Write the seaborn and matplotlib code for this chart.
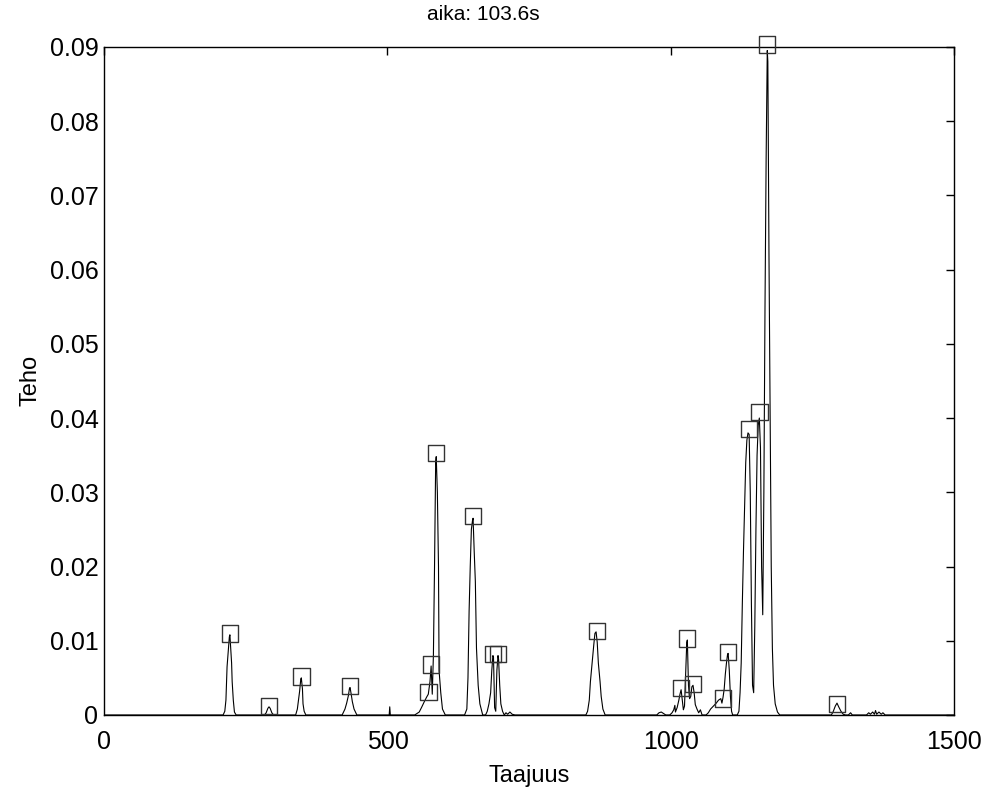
import matplotlib
matplotlib.use("Agg")
import matplotlib.pyplot as plt
import seaborn as sns
import pandas as pd

# spectrum (frequency, power)
freq = [0, 210, 213, 215, 217, 219, 221, 222, 223, 225, 226, 228, 230, 233,
        283, 286, 289, 291, 293, 296, 299,
        338, 341, 343, 345, 347, 348, 350, 351, 353, 356,
        420, 425, 428, 431, 433, 434, 436, 438, 441, 446,
        503, 504, 505,
        548, 552, 556, 560, 565, 569, 572, 575, 577, 579, 581, 583, 585, 586, 588, 590, 591, 594, 597, 602,
        636, 640, 642, 644, 646, 648, 650, 651, 653, 655, 657, 660, 663, 668,
        673, 676, 679, 682, 684, 686, 687, 689, 691, 693, 695, 696, 698, 700, 703, 706, 709, 712, 716, 720, 725,
        850, 853, 856, 858, 861, 864, 866, 868, 870, 872, 875, 877, 880, 884,
        975, 979, 983, 987, 991,
        998, 1002, 1005, 1007, 1008, 1011, 1014, 1016, 1018, 1020, 1022, 1024, 1026, 1028, 1029, 1031, 1033,
        1035, 1037, 1039, 1041, 1043, 1046, 1049, 1052, 1055,
        1062, 1066, 1070, 1075, 1080, 1084, 1088, 1090, 1092, 1094, 1096, 1098, 1100, 1101, 1103, 1105, 1107, 1109,
        1117, 1120, 1122, 1124, 1126, 1128, 1130, 1132, 1134, 1136, 1138, 1140, 1142, 1144, 1146, 1148, 1150,
        1152, 1154, 1156, 1158, 1160, 1162, 1164, 1166, 1168, 1170, 1171, 1173, 1175, 1177, 1179, 1181, 1184,
        1188, 1192,
        1283, 1286, 1290, 1293, 1296, 1300, 1304, 1308, 1313, 1317, 1320,
        1345, 1349, 1352, 1356, 1359, 1361, 1363, 1367, 1371, 1374, 1378, 1500]
power = [0, 0, 0.0005, 0.002, 0.0065, 0.0085, 0.0105, 0.0108, 0.0095, 0.007, 0.0045, 0.002, 0.0004, 0,
         0, 0.0003, 0.0009, 0.0011, 0.0009, 0.0003, 0,
         0, 0.0008, 0.002, 0.0032, 0.0048, 0.005, 0.0035, 0.0015, 0.0005, 0,
         0, 0.0008, 0.0016, 0.0026, 0.0036, 0.0037, 0.0028, 0.0018, 0.0008, 0,
         0, 0.0011, 0,
         0, 0.0002, 0.0004, 0.001, 0.0018, 0.0024, 0.0028, 0.0045, 0.0066, 0.0028, 0.008, 0.02, 0.034, 0.0348,
         0.03, 0.02, 0.006, 0.003, 0.0008, 0,
         0, 0.0008, 0.005, 0.014, 0.02, 0.025, 0.0262, 0.0265, 0.022, 0.018, 0.009, 0.004, 0.0015, 0,
         0, 0.0005, 0.0015, 0.003, 0.006, 0.008, 0.0078, 0.001, 0.0005, 0.006, 0.008, 0.0075, 0.004, 0.0015,
         0.0005, 0, 0.0003, 0.0001, 0.0004, 0.0001, 0,
         0, 0.0005, 0.002, 0.0045, 0.007, 0.0095, 0.011, 0.0112, 0.0098, 0.007, 0.0045, 0.0025, 0.0008, 0,
         0, 0.0003, 0.0004, 0.0002, 0,
         0, 0.0003, 0.0007, 0.0013, 0.0004, 0.001, 0.002, 0.0028, 0.0034, 0.002, 0.0007, 0.0012, 0.0055, 0.0098,
         0.0101, 0.004, 0.0022,
         0.0025, 0.0038, 0.004, 0.003, 0.0014, 0.0008, 0.0003, 0.0007, 0,
         0, 0.0003, 0.0008, 0.0012, 0.0016, 0.002, 0.0022, 0.0016, 0.0024, 0.0035, 0.0055, 0.007, 0.0082,
         0.0083, 0.006, 0.0025, 0.0005, 0,
         0, 0.0005, 0.003, 0.007, 0.015, 0.022, 0.028, 0.034, 0.037, 0.038, 0.0378, 0.03, 0.015, 0.004, 0.003,
         0.012, 0.025,
         0.035, 0.039, 0.04, 0.036, 0.02, 0.0135, 0.03, 0.055, 0.075, 0.0895, 0.088, 0.062, 0.04, 0.02, 0.009,
         0.004, 0.0015,
         0.0004, 0,
         0, 0.0004, 0.0012, 0.0016, 0.0011, 0.0005, 0.0001, 0, 0, 0.0003, 0,
         0, 0.0003, 0.0001, 0.0004, 0.0001, 0.0006, 0.0001, 0.0004, 0.0001, 0.0003, 0, 0]

# detected peaks (square markers)
peak_freq = [222, 291, 348, 434, 572, 577, 586, 651, 686, 695, 870,
             1018, 1028, 1039, 1092, 1101, 1138, 1156, 1170, 1293]
peak_power = [0.0110, 0.0012, 0.0052, 0.0039, 0.0031, 0.0068, 0.0353, 0.0268, 0.0082, 0.0082, 0.0113,
              0.0036, 0.0103, 0.0042, 0.0022, 0.0085, 0.0385, 0.0408, 0.0903, 0.0015]

x_ticks = [0, 500, 1000, 1500]
y_ticks = [0, 0.01, 0.02, 0.03, 0.04, 0.05, 0.06, 0.07, 0.08, 0.09]
y_labels = ["0", "0.01", "0.02", "0.03", "0.04", "0.05", "0.06", "0.07", "0.08", "0.09"]

sns.set_style("white")
plt.rcParams['font.family'] = ['Liberation Sans', 'DejaVu Sans']
plt.rcParams['text.color'] = 'black'
plt.rcParams['axes.labelcolor'] = 'black'
plt.rcParams['xtick.color'] = 'black'
plt.rcParams['ytick.color'] = 'black'

spec = pd.DataFrame({"Taajuus": freq, "Teho": power})
peaks = pd.DataFrame({"Taajuus": peak_freq, "Teho": peak_power})

fig = plt.figure(figsize=(9.91, 7.87), dpi=100)
ax = fig.add_axes([0.105, 0.0915, 0.858, 0.849])

sns.lineplot(data=spec, x="Taajuus", y="Teho", ax=ax, color="black", linewidth=0.8,
             sort=False, estimator=None)
sns.scatterplot(data=peaks, x="Taajuus", y="Teho", ax=ax, marker="s", s=140,
                facecolor="none", edgecolor="#333333", linewidth=1.0, clip_on=False, zorder=3)

ax.set_xlim(0, 1500)
ax.set_ylim(0, 0.09)
ax.set_xticks(x_ticks)
ax.set_yticks(y_ticks)
ax.set_yticklabels(y_labels)
ax.tick_params(direction="in", length=6, width=1, labelsize=18, top=True, right=True)
ax.tick_params(axis="y", pad=4)
ax.tick_params(axis="x", pad=11)
for s in ax.spines.values():
    s.set_color("black")
    s.set_linewidth(1)
ax.set_xlabel("Taajuus", fontsize=17, labelpad=8)
ax.set_ylabel("Teho", fontsize=17, labelpad=6)
ax.text(0.446, 1.049, "aika: 103.6s", transform=ax.transAxes, ha="center", va="center", fontsize=15)

fig.savefig("out.png", dpi=100)
